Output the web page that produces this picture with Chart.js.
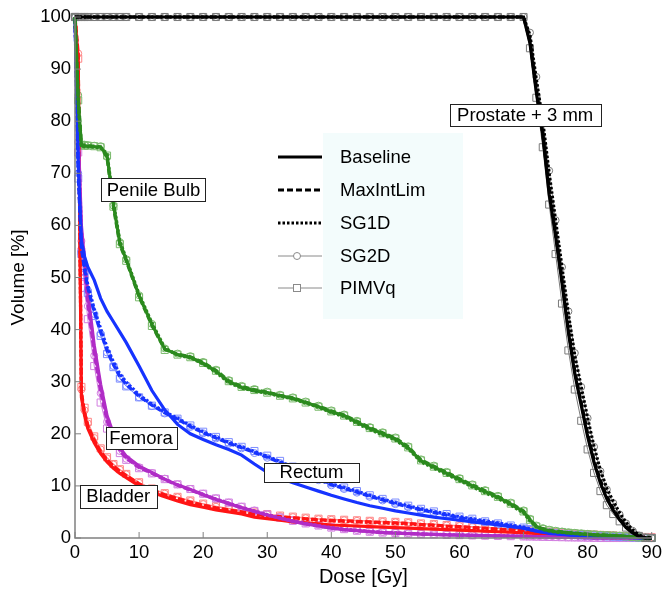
<!DOCTYPE html>
<html><head><meta charset="utf-8">
<script src="https://cdn.jsdelivr.net/npm/chart.js@4.4.0/dist/chart.umd.min.js"></script>
<style>html,body{margin:0;padding:0;background:#fff;}canvas{display:block;}</style>
</head><body>
<canvas id="c" width="666" height="590"></canvas>
<script>
// ---------- data ----------
const doseGy = [0,0.5,1,1.5,2,3,4,5,6,7,8,
  10,12,14,16,18,20,22,24,26,28,30,32,34,36,38,40,42,44,46,48,50,52,54,56,58,60,62,64,66,68,70,
  71,72,73,74,75,76,77,78,79,80,81,82,83,84,85,86,87,88,89,90];

const methods = ['Baseline','MaxIntLim','SG1D','SG2D','PIMVq'];
const organNames = ['Prostate + 3 mm','Penile Bulb','Rectum','Femora','Bladder'];
const xTicks = [0,10,20,30,40,50,60,70,80,90];
const yTicks = [0,10,20,30,40,50,60,70,80,90,100];

const prostateBaseline = [100,100,100,100,100,100,100,100,100,100,100,
  100,100,100,100,100,100,100,100,100,100,100,100,100,100,100,100,100,100,100,100,100,100,100,100,100,100,100,100,100,100,100,
  95,85.5,77.5,66,58,49,39.5,31.5,25.5,19.5,14.5,10.5,7.5,5.3,3.5,2,1,0.3,0,0];
const prostateMaxIntLim = [100,100,100,100,100,100,100,100,100,100,100,
  100,100,100,100,100,100,100,100,100,100,100,100,100,100,100,100,100,100,100,100,100,100,100,100,100,100,100,100,100,100,100,
  95.5,86,77.5,67,58.5,49.5,40,32,26,20,15,11,8,5.6,3.7,2.2,1.1,0.4,0,0];
const prostateSG1D = [100,100,100,100,100,100,100,100,100,100,100,
  100,100,100,100,100,100,100,100,100,100,100,100,100,100,100,100,100,100,100,100,100,100,100,100,100,100,100,100,100,100,100,
  96.5,88,80,70,61,52,43,35,29,23,17.5,13,9.5,7,4.8,3,1.6,0.6,0.1,0];
const prostateSG2D = [100,100,100,100,100,100,100,100,100,100,100,
  100,100,100,100,100,100,100,100,100,100,100,100,100,100,100,100,100,100,100,100,100,100,100,100,100,100,100,100,100,100,100,
  97,88.5,80.5,70.5,61,52,43.5,35.5,29,23,17.5,12.8,9.3,6.7,4.5,2.8,1.4,0.5,0.1,0];
const prostatePIMVq = [100,100,100,100,100,100,100,100,100,100,100,
  100,100,100,100,100,100,100,100,100,100,100,100,100,100,100,100,100,100,100,100,100,100,100,100,100,100,100,100,100,100,100,
  94,84.5,75,64,54.5,45,36,28.5,22.5,17,12.5,9,6.3,4.6,3.2,2,1,0.4,0,0];

const bulbBaseline = [100,84,75.3,75.2,75.2,75.1,75,73.5,64,56.6,53.4,
  46.5,41,36.3,35.2,34.7,33.5,32,30,28.9,28.3,27.9,27.3,26.8,26,25.2,24.2,23.5,22.2,21,20,19,17.3,14.8,13.6,12.4,11.2,10,8.9,7.8,6.5,5,
  3.5,2.2,1.7,1.4,1.2,1.1,1,0.9,0.8,0.7,0.6,0.55,0.5,0.45,0.4,0.3,0.2,0.1,0,0];
const bulbMaxIntLim = [100,85,75.5,75.4,75.3,75.2,75.1,73,63.5,56.3,53.2,
  46.3,40.8,36.2,35.3,34.8,33.7,32.2,30.2,29.1,28.5,28,27.4,26.9,26.1,25.3,24.4,23.6,22.4,21.2,20.2,19.2,17.5,15,13.8,12.6,11.4,10.2,9.1,8,6.7,5.2,
  3.6,2.3,1.8,1.5,1.3,1.2,1.05,0.95,0.85,0.75,0.65,0.6,0.55,0.5,0.4,0.3,0.2,0.1,0.05,0];
const bulbSG1D = [100,83,75.2,75.1,75.1,75,74.9,73.8,64.5,57,53.6,
  46.8,41.3,36.5,35.1,34.6,33.4,31.8,29.8,28.8,28.2,27.8,27.2,26.7,25.9,25.1,24.1,23.3,22,20.8,19.8,18.8,17.1,14.6,13.4,12.2,11,9.8,8.7,7.6,6.3,4.8,
  3.3,2.1,1.6,1.35,1.15,1.05,0.95,0.85,0.75,0.65,0.6,0.5,0.45,0.4,0.35,0.25,0.15,0.1,0,0];
const bulbSG2D = [100,85,75.6,75.5,75.4,75.3,75.2,73.2,63.8,56.8,53.5,
  46.6,41.1,36.4,35.4,34.9,33.8,32.3,30.3,29.2,28.6,28.1,27.5,27,26.2,25.4,24.5,23.7,22.5,21.3,20.3,19.3,17.6,15.1,13.9,12.7,11.5,10.3,9.2,8.1,6.8,5.3,
  3.7,2.4,1.9,1.6,1.4,1.25,1.1,1,0.9,0.8,0.7,0.6,0.55,0.5,0.45,0.35,0.25,0.15,0.05,0];
const bulbPIMVq = [100,84,75.4,75.3,75.3,75.2,75,73.4,63.6,56.4,53.2,
  46.2,40.7,36.1,35.2,34.7,33.6,32.1,30.1,29,28.4,27.9,27.3,26.8,26,25.2,24.3,23.5,22.3,21.1,20.1,19.1,17.4,14.9,13.7,12.5,11.3,10.1,9,7.9,6.6,5.1,
  3.5,2.2,1.7,1.45,1.25,1.15,1,0.9,0.8,0.7,0.65,0.55,0.5,0.45,0.4,0.3,0.2,0.1,0.05,0];

const rectumBaseline = [100,72,57,54,52,49.5,46,43.5,41.5,39.5,37.5,
  33,28.3,24.6,21.8,20,18.9,17.9,17,15.9,14.2,12.6,11.5,10.6,9.8,9,8.2,7.5,6.8,6.2,5.7,5.2,4.8,4.4,4,3.7,3.4,3.1,2.8,2.5,2.2,1.9,
  1.6,1.3,1.1,0.9,0.8,0.7,0.6,0.5,0.45,0.4,0.35,0.3,0.25,0.2,0.15,0.1,0.05,0,0,0];
const rectumMaxIntLim = [100,70,55.5,51.5,48,43.5,39.6,36,33.3,31,29.5,
  27.2,25.5,24,22.8,21.4,20.2,19.2,18.2,17.3,16.4,15.5,14.5,13.4,12.3,11.2,10.2,9.5,8.8,8,7.3,6.6,6,5.4,4.9,4.4,3.9,3.5,3.1,2.7,2.3,1.9,
  1.6,1.35,1.15,1,0.85,0.75,0.65,0.55,0.5,0.45,0.4,0.35,0.3,0.25,0.2,0.15,0.1,0.05,0,0];
const rectumSG1D = [100,71,56,52,48.6,44,40.2,36.6,33.8,31.5,29.9,
  27.5,25.7,24.2,23,21.6,20.4,19.4,18.4,17.5,16.6,15.7,14.7,13.6,12.5,11.4,10.4,9.7,9,8.2,7.5,6.8,6.2,5.6,5.1,4.6,4.1,3.7,3.3,2.9,2.5,2.1,
  1.75,1.45,1.2,1.05,0.9,0.8,0.7,0.6,0.55,0.5,0.45,0.4,0.35,0.3,0.25,0.2,0.15,0.1,0.05,0];
const rectumSG2D = [100,70,55,51,47.5,43,39.2,35.6,33,30.7,29.2,
  27,25.3,23.9,22.7,21.3,20.1,19.1,18.1,17.2,16.3,15.4,14.4,13.3,12.2,11.1,10.1,9.4,8.7,7.9,7.2,6.5,5.9,5.3,4.8,4.3,3.8,3.4,3,2.6,2.2,1.8,
  1.55,1.3,1.1,0.95,0.8,0.7,0.6,0.5,0.45,0.4,0.35,0.3,0.25,0.2,0.15,0.1,0.05,0,0,0];
const rectumPIMVq = [100,69,54.5,50.5,47,42.6,38.8,35.3,32.8,30.6,29.1,
  27,25.4,24.1,22.9,21.6,20.4,19.4,18.4,17.5,16.7,15.8,14.8,13.7,12.6,11.5,10.5,9.7,9,8.2,7.5,6.8,6.2,5.6,5.1,4.6,4.1,3.7,3.2,2.8,2.4,2,
  1.7,1.4,1.2,1.05,0.9,0.8,0.7,0.6,0.55,0.5,0.45,0.4,0.35,0.3,0.25,0.2,0.15,0.1,0.05,0];

const femoraBaseline = [100,78,60,53,47,37,29.5,23.5,20,17.3,15.7,
  13.8,12.6,11.3,10.2,9.3,8.3,7.4,6.6,5.8,5.1,4.4,3.8,3.2,2.7,2.3,1.9,1.6,1.4,1.2,1.05,0.95,0.85,0.75,0.7,0.6,0.55,0.5,0.45,0.4,0.35,0.3,
  0.28,0.25,0.22,0.2,0.18,0.15,0.12,0.1,0.08,0.05,0.03,0,0,0,0,0,0,0,0,0];
const femoraMaxIntLim = [100,76,58,51,45,35.5,28,22.5,19.2,16.8,15.3,
  13.5,12.4,11.2,10.1,9.2,8.3,7.4,6.6,5.8,5.1,4.4,3.8,3.2,2.7,2.3,1.9,1.6,1.4,1.2,1.05,0.95,0.85,0.75,0.7,0.6,0.55,0.5,0.45,0.4,0.35,0.3,
  0.28,0.25,0.22,0.2,0.18,0.15,0.12,0.1,0.08,0.05,0.03,0,0,0,0,0,0,0,0,0];
const femoraSG1D = [100,77,59,52,46,36.2,28.8,23,19.6,17,15.5,
  13.7,12.5,11.3,10.2,9.3,8.4,7.5,6.7,5.9,5.2,4.5,3.9,3.3,2.8,2.4,2,1.7,1.5,1.3,1.1,1,0.9,0.8,0.7,0.65,0.6,0.55,0.5,0.45,0.4,0.35,
  0.3,0.28,0.25,0.22,0.2,0.18,0.15,0.12,0.1,0.08,0.05,0.03,0,0,0,0,0,0,0,0];
const femoraSG2D = [100,76,57,50,44.5,35,27.8,22.3,19,16.7,15.2,
  13.6,12.5,11.4,10.3,9.4,8.5,7.6,6.8,6,5.3,4.6,4,3.4,2.9,2.5,2.1,1.8,1.5,1.3,1.15,1,0.9,0.8,0.75,0.65,0.6,0.55,0.5,0.45,0.4,0.35,
  0.3,0.28,0.25,0.22,0.2,0.18,0.15,0.12,0.1,0.08,0.05,0.03,0,0,0,0,0,0,0,0];
const femoraPIMVq = [100,74,55,48,42,33,26,21,18.3,16.3,15,
  13.4,12.4,11.3,10.3,9.4,8.5,7.6,6.8,6,5.2,4.5,3.9,3.3,2.8,2.4,2,1.7,1.4,1.2,1.05,0.95,0.85,0.75,0.7,0.6,0.55,0.5,0.45,0.4,0.35,0.3,
  0.28,0.25,0.22,0.2,0.18,0.15,0.12,0.1,0.08,0.05,0.03,0,0,0,0,0,0,0,0,0];

const bladderBaseline = [100,92,27,23.5,21,18.3,16.2,14.6,13.4,12.4,11.6,
  10,8.8,7.9,7.1,6.4,5.9,5.4,5,4.6,4,3.7,3.4,3.1,2.9,2.7,2.5,2.4,2.3,2.2,2.1,2,1.9,1.8,1.7,1.6,1.5,1.4,1.3,1.2,1.1,1,
  0.95,0.9,0.85,0.8,0.75,0.7,0.65,0.6,0.55,0.5,0.45,0.4,0.35,0.3,0.25,0.2,0.15,0.1,0.05,0];
const bladderMaxIntLim = [100,93,28,24,21.5,18.8,16.6,15,13.8,12.8,12,
  10.4,9.2,8.3,7.6,6.9,6.3,5.8,5.4,5,4.6,4.3,4.1,3.9,3.7,3.5,3.4,3.3,3.2,3.1,3,2.9,2.8,2.6,2.5,2.3,2.2,2,1.9,1.7,1.6,1.4,
  1.3,1.2,1.1,1,0.9,0.85,0.8,0.7,0.65,0.6,0.55,0.5,0.45,0.4,0.3,0.25,0.2,0.15,0.1,0.05];
const bladderSG1D = [100,92,27.5,24,21.4,18.6,16.5,14.9,13.7,12.7,11.9,
  10.3,9.1,8.2,7.5,6.8,6.2,5.7,5.3,4.9,4.5,4.2,4,3.8,3.6,3.4,3.3,3.2,3.1,3,2.9,2.8,2.7,2.5,2.4,2.2,2.1,1.9,1.8,1.6,1.5,1.3,
  1.2,1.1,1,0.95,0.85,0.8,0.75,0.65,0.6,0.55,0.5,0.45,0.4,0.35,0.3,0.25,0.2,0.15,0.1,0.05];
const bladderSG2D = [100,93,28.5,24.5,22,19.2,17,15.3,14.1,13.1,12.2,
  10.6,9.4,8.5,7.8,7.1,6.5,6,5.6,5.2,4.8,4.5,4.2,4,3.8,3.6,3.5,3.4,3.3,3.2,3.1,3,2.9,2.7,2.6,2.4,2.3,2.1,2,1.8,1.7,1.5,
  1.4,1.3,1.2,1.1,1,0.9,0.85,0.75,0.7,0.65,0.6,0.55,0.5,0.45,0.35,0.3,0.25,0.2,0.15,0.1];
const bladderPIMVq = [100,92,29,25,22.3,19.5,17.2,15.5,14.2,13.2,12.3,
  10.7,9.5,8.6,7.9,7.2,6.6,6.1,5.7,5.3,4.9,4.6,4.3,4.1,3.9,3.7,3.6,3.5,3.4,3.3,3.2,3.1,3,2.8,2.7,2.5,2.4,2.2,2.1,1.9,1.8,1.6,
  1.5,1.4,1.3,1.2,1.1,1,0.9,0.8,0.75,0.7,0.65,0.6,0.55,0.5,0.4,0.35,0.3,0.25,0.2,0.15];

// ---------- styling ----------
const FONT = "'Liberation Sans', Arial, Helvetica, sans-serif";
const organs = [
  {name: organNames[0], color:'#000000', light:'#7a7a7a', sets:[prostateBaseline,prostateMaxIntLim,prostateSG1D,prostateSG2D,prostatePIMVq]},
  {name: organNames[1], color:'#2b8a1e', light:'#7aba6c', sets:[bulbBaseline,bulbMaxIntLim,bulbSG1D,bulbSG2D,bulbPIMVq]},
  {name: organNames[2], color:'#1633ff', light:'#7d8dff', sets:[rectumBaseline,rectumMaxIntLim,rectumSG1D,rectumSG2D,rectumPIMVq]},
  {name: organNames[3], color:'#b02cc6', light:'#d27fe0', sets:[femoraBaseline,femoraMaxIntLim,femoraSG1D,femoraSG2D,femoraPIMVq]},
  {name: organNames[4], color:'#ff1414', light:'#ff8484', sets:[bladderBaseline,bladderMaxIntLim,bladderSG1D,bladderSG2D,bladderPIMVq]}
];
const dashes = [[], [6,3], [2.5,2]];
const toXY = arr => doseGy.map((d, i) => ({x: d, y: arr[i]}));

const datasets = [];
organs.forEach(o => {
  for (let m = 0; m < 3; m++) {
    datasets.push({
      label: o.name + ' ' + methods[m], data: toXY(o.sets[m]),
      borderColor: o.color, borderWidth: 3.2, borderDash: dashes[m],
      pointRadius: 0, fill: false, tension: 0, clip: false
    });
  }
});
organs.forEach(o => {
  for (let m = 3; m < 5; m++) {
    datasets.push({
      label: o.name + ' ' + methods[m], data: toXY(o.sets[m]),
      borderColor: o.light, borderWidth: 1,
      pointStyle: m === 3 ? 'circle' : 'rect', pointRadius: m === 3 ? 3.5 : 5,
      pointBorderColor: o.light, pointBackgroundColor: 'rgba(0,0,0,0)', pointBorderWidth: 1,
      fill: false, tension: 0, clip: false
    });
  }
});

const organLabels = [
  {text: organNames[0], d: 70.25, v: 81.2, w: 151, h: 22},
  {text: organNames[1], d: 12.25, v: 66.9, w: 104, h: 23},
  {text: organNames[2], d: 36.9, v: 12.6, w: 95, h: 19},
  {text: organNames[3], d: 10.3, v: 19.2, w: 71, h: 22},
  {text: organNames[4], d: 6.75, v: 8.0, w: 77, h: 23}
];

const overlay = {
  id: 'overlay',
  beforeDatasetsDraw(chart) {
    const ctx = chart.ctx;
    ctx.save();
    ctx.fillStyle = '#f3fcfc';
    ctx.fillRect(323, 133, 140, 186);
    ctx.restore();
  },
  afterDatasetsDraw(chart) {
    const {ctx, chartArea: a, scales: {x, y}} = chart;
    ctx.save();
    ctx.strokeStyle = '#808080'; ctx.lineWidth = 1.5; ctx.setLineDash([]);
    ctx.beginPath();
    ctx.moveTo(a.left, a.top); ctx.lineTo(a.left, a.bottom); ctx.lineTo(a.right, a.bottom);
    ctx.stroke();
    ctx.lineWidth = 1;
    ctx.beginPath();
    xTicks.forEach(t => { const px = x.getPixelForValue(t); ctx.moveTo(px, a.bottom); ctx.lineTo(px, a.bottom - 6); });
    yTicks.forEach(t => { const py = y.getPixelForValue(t); ctx.moveTo(a.left, py); ctx.lineTo(a.left + 6, py); });
    ctx.stroke();

    const lx0 = 278, lx1 = 322, tx = 340;
    const rows = [157, 190, 223, 256, 288];
    methods.forEach((m, i) => {
      const yy = rows[i];
      ctx.save();
      if (i < 3) {
        ctx.strokeStyle = '#000'; ctx.lineWidth = 3; ctx.setLineDash(dashes[i]);
      } else {
        ctx.strokeStyle = '#8a8a8a'; ctx.lineWidth = 1; ctx.setLineDash([]);
      }
      ctx.beginPath(); ctx.moveTo(lx0, yy); ctx.lineTo(lx1, yy); ctx.stroke();
      ctx.setLineDash([]);
      if (i === 3) {
        ctx.fillStyle = '#fff'; ctx.beginPath(); ctx.arc(297, yy, 3.5, 0, Math.PI * 2); ctx.fill(); ctx.stroke();
      } else if (i === 4) {
        ctx.fillStyle = '#fff'; ctx.fillRect(293.5, yy - 3.5, 7, 7); ctx.strokeRect(293.5, yy - 3.5, 7, 7);
      }
      ctx.restore();
      ctx.fillStyle = '#000'; ctx.font = '18.5px ' + FONT;
      ctx.textAlign = 'left'; ctx.textBaseline = 'middle';
      ctx.fillText(m, tx, yy + 1);
    });

    organLabels.forEach(l => {
      const cx = x.getPixelForValue(l.d), cy = y.getPixelForValue(l.v);
      const bx = Math.round(cx - l.w / 2) + 0.5, by = Math.round(cy - l.h / 2) + 0.5;
      ctx.fillStyle = '#fff'; ctx.fillRect(bx, by, l.w, l.h);
      ctx.strokeStyle = '#222'; ctx.lineWidth = 1; ctx.strokeRect(bx, by, l.w, l.h);
      ctx.fillStyle = '#000'; ctx.font = '18.5px ' + FONT;
      ctx.textAlign = 'center'; ctx.textBaseline = 'middle';
      ctx.fillText(l.text, cx, cy + 1);
    });
    ctx.restore();
  }
};

new Chart(document.getElementById('c'), {
  type: 'line',
  data: {datasets},
  plugins: [overlay],
  options: {
    responsive: false, animation: false, devicePixelRatio: 1, events: [],
    layout: {padding: {left: 0, right: 10, top: 17, bottom: 0}},
    plugins: {legend: {display: false}, tooltip: {enabled: false}},
    scales: {
      x: {
        type: 'linear', min: 0, max: 90,
        afterBuildTicks: s => { s.ticks = xTicks.map(v => ({value: v})); },
        ticks: {padding: 4, color: '#000', font: {family: FONT, size: 18.5}, maxRotation: 0},
        grid: {display: false, drawTicks: false}, border: {display: false},
        title: {display: true, text: 'Dose [Gy]', color: '#000', font: {family: FONT, size: 20}, padding: {top: 0, bottom: 1}},
        afterFit: s => { s.height = 52; }
      },
      y: {
        type: 'linear', min: 0, max: 100,
        afterBuildTicks: s => { s.ticks = yTicks.map(v => ({value: v})); },
        ticks: {padding: 4, color: '#000', font: {family: FONT, size: 18.5}},
        grid: {display: false, drawTicks: false}, border: {display: false},
        title: {display: true, text: 'Volume [%]', color: '#000', font: {family: FONT, size: 19}, padding: {top: 7, bottom: 0}},
        afterFit: s => { s.width = 75; }
      }
    }
  }
});
</script>
</body></html>
